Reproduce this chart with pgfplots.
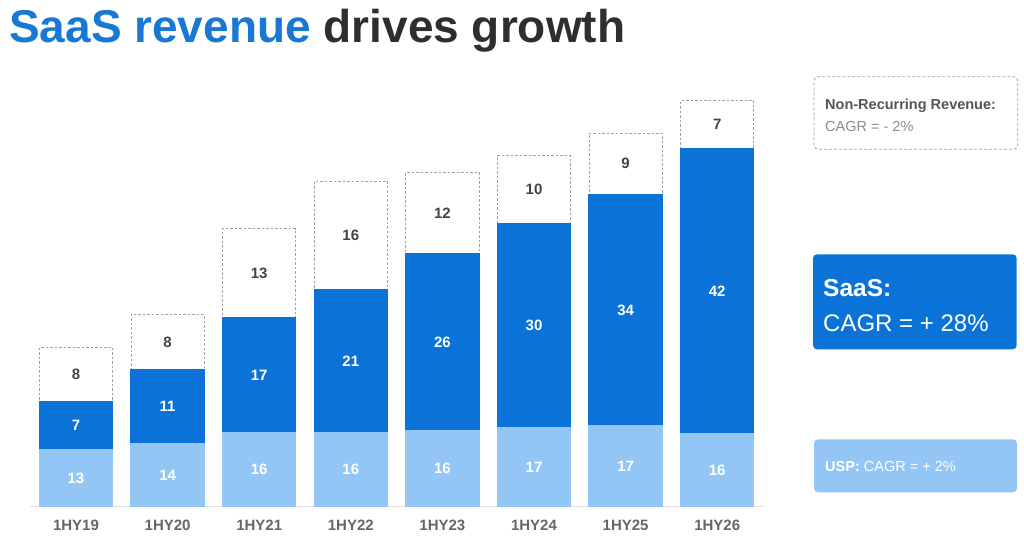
\documentclass[border=0pt]{standalone}
\usepackage{pgfplots}
\pgfplotsset{compat=1.18}
\usepackage{pgfplotstable}
\usepackage{fontspec}
\setmainfont{Liberation Sans}
\definecolor{saas}{HTML}{0B73D7}
\definecolor{usp}{HTML}{93C6F5}
\definecolor{ttlblue}{HTML}{1878D3}
\definecolor{ttldark}{HTML}{2E2E30}
\definecolor{nrtext}{HTML}{444444}
\definecolor{cattext}{HTML}{666666}
\definecolor{dashgray}{HTML}{A0A0A0}
\definecolor{boxhead}{HTML}{555555}
\definecolor{boxsub}{HTML}{8A8A8A}

% usp = drawn height of the USP segment (compressed in the original), uspl = printed value
\pgfplotstableread{
x usp uspl saas nr
0 8.4 13 7 8
1 9.2 14 11 8
2 10.85 16 17 13
3 10.85 16 21 16
4 11.15 16 26 12
5 11.6 17 30 10
6 11.9 17 34 9
7 10.7 16 42 7
}\revtable

\begin{document}
\begin{tikzpicture}
\useasboundingbox (0,0) rectangle (1024bp,543bp);
\node[anchor=base west, inner sep=0, font=\fontsize{46bp}{50bp}\selectfont\bfseries] at (9bp,500bp) {\textcolor{ttlblue}{SaaS revenue} \textcolor{ttldark}{drives growth}};

\begin{axis}[at={(30.2bp,36.5bp)}, anchor=south west, scale only axis,
  width=732.8bp, height=408bp, xmin=-0.5, xmax=7.5, ymin=0, ymax=60,
  axis x line*=bottom, axis y line=none,
  x axis line style={draw=black!12, line width=0.8bp},
  xtick={0,...,7},
  xticklabels={1HY19,1HY20,1HY21,1HY22,1HY23,1HY24,1HY25,1HY26},
  major tick length=0pt,
  xticklabel style={font=\fontsize{15bp}{17bp}\selectfont\bfseries, text=cattext, yshift=-10bp},
  clip=false]
\addplot[ybar, bar width=0.8, bar shift=0pt, fill=white, draw=dashgray, line width=0.8bp, dash pattern=on 2.5bp off 2bp]
  table[x=x, y expr=\thisrow{usp}+\thisrow{saas}+\thisrow{nr}] {\revtable};
\addplot[ybar, bar width=0.8, bar shift=0pt, fill=saas, draw=saas, line width=1bp]
  table[x=x, y expr=\thisrow{usp}+\thisrow{saas}] {\revtable};
\addplot[ybar, bar width=0.8, bar shift=0pt, fill=usp, draw=usp, line width=1bp]
  table[x=x, y=usp] {\revtable};

\addplot[draw=none, mark=none, nodes near coords, point meta=explicit symbolic,
  nodes near coords align=center,
  every node near coord/.append style={font=\fontsize{15bp}{17bp}\selectfont\bfseries, text=white}]
  table[x=x, y expr=\thisrow{usp}/2, meta=uspl] {\revtable};
\addplot[draw=none, mark=none, nodes near coords, point meta=explicit symbolic,
  nodes near coords align=center,
  every node near coord/.append style={font=\fontsize{15bp}{17bp}\selectfont\bfseries, text=white}]
  table[x=x, y expr=\thisrow{usp}+\thisrow{saas}/2, meta=saas] {\revtable};
\addplot[draw=none, mark=none, nodes near coords, point meta=explicit symbolic,
  nodes near coords align=center,
  every node near coord/.append style={font=\fontsize{15bp}{17bp}\selectfont\bfseries, text=nrtext}]
  table[x=x, y expr=\thisrow{usp}+\thisrow{saas}+\thisrow{nr}/2, meta=nr] {\revtable};
\end{axis}

% right-hand annotation boxes
\draw[dashgray, dash pattern=on 3bp off 2bp, line width=0.8bp, rounded corners=4bp] (814bp,393.7bp) rectangle (1017.7bp,466.3bp);
\node[anchor=base west, inner sep=0, font=\fontsize{14.5bp}{16bp}\selectfont\bfseries, text=boxhead] at (825bp,433.7bp) {Non-Recurring Revenue:};
\node[anchor=base west, inner sep=0, font=\fontsize{14.5bp}{16bp}\selectfont, text=boxsub] at (825bp,411.3bp) {CAGR = - 2\%};

\fill[saas, rounded corners=4bp] (813bp,193.7bp) rectangle (1016.7bp,288.7bp);
\node[anchor=base west, inner sep=0, font=\fontsize{24.5bp}{27bp}\selectfont\bfseries, text=white] at (823bp,246.3bp) {SaaS:};
\node[anchor=base west, inner sep=0, font=\fontsize{24bp}{27bp}\selectfont, text=white] at (823bp,211.3bp) {CAGR = + 28\%};

\fill[usp, rounded corners=4bp] (814bp,50.7bp) rectangle (1017bp,103.7bp);
\node[anchor=base west, inner sep=0, font=\fontsize{14.5bp}{16bp}\selectfont, text=white] at (825bp,71.3bp) {\textbf{USP:} CAGR = + 2\%};
\end{tikzpicture}
\end{document}
